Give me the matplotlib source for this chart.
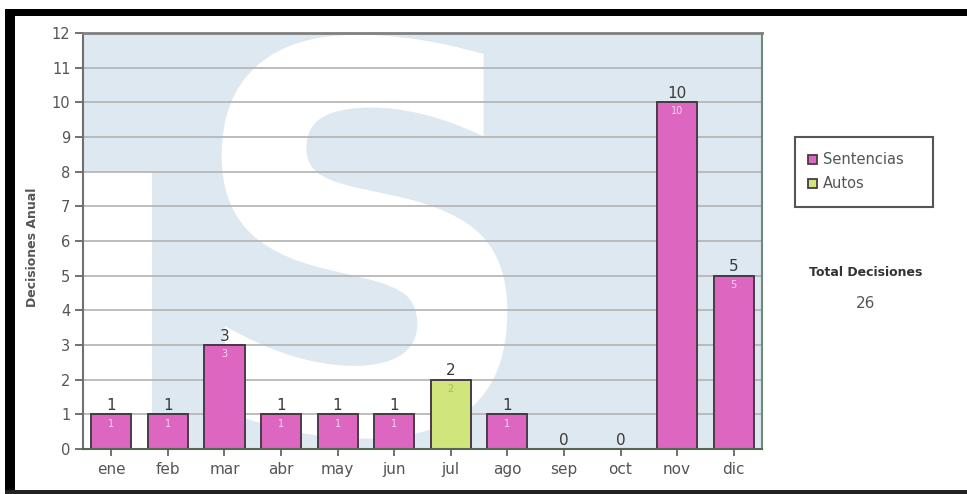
import matplotlib
matplotlib.use("Agg")
import matplotlib.pyplot as plt
from matplotlib.patches import Rectangle, PathPatch
from matplotlib.textpath import TextPath
from matplotlib.font_manager import FontProperties
from matplotlib.transforms import Affine2D

# ---- data ----
months = ['ene', 'feb', 'mar', 'abr', 'may', 'jun', 'jul', 'ago', 'sep', 'oct', 'nov', 'dic']
sentencias = [1, 1, 3, 1, 1, 1, 0, 1, 0, 0, 10, 5]
autos = [0, 0, 0, 0, 0, 0, 2, 0, 0, 0, 0, 0]
series_names = ['Sentencias', 'Autos']
total_label = 'Total Decisiones'
total_value = 26
y_ticks = list(range(0, 13))

# ---- style ----
c_sent = '#dd66c0'
c_auto = '#d0e67a'
c_edge = '#4a3a48'
c_bg = '#dde8f1'
c_text = '#555555'

W, H = 967, 494
fig = plt.figure(figsize=(W / 100, H / 100), dpi=100)
fig.patch.set_facecolor('white')

ax = fig.add_axes([83 / W, 1 - 449 / H, (762 - 83) / W, (449 - 33) / H])
ax.set_facecolor(c_bg)
ax.set_xlim(-0.5, len(months) - 0.5)
ax.set_ylim(0, 12)

# watermark: white lower-left block and a big white "S"
ax.add_patch(Rectangle((-0.5, 0), 1.22, 8, facecolor='white', edgecolor='none', zorder=0.2))
tp = TextPath((0, 0), 'S', size=1, prop=FontProperties(family='DejaVu Sans', weight='bold'))
ext = tp.get_extents()
x0, x1, y0, y1 = 1.95, 7.0, 0.3, 11.95
tr = (Affine2D().translate(-ext.x0, -ext.y0)
      .scale((x1 - x0) / ext.width, (y1 - y0) / ext.height)
      .translate(x0, y0)) + ax.transData
ax.add_patch(PathPatch(tp, transform=tr, facecolor='white', edgecolor='none', zorder=0.3))

# gridlines
for yv in y_ticks[1:]:
    ax.axhline(yv, color='#b2b2b2', lw=1.2, zorder=0.6)

x = list(range(len(months)))
totals = [s + a for s, a in zip(sentencias, autos)]
ax.bar(x, sentencias, width=0.71, color=c_sent, edgecolor=c_edge, linewidth=1.4, zorder=2,
       label=series_names[0])
ax.bar(x, autos, bottom=sentencias, width=0.71, color=c_auto, edgecolor=c_edge, linewidth=1.4,
       zorder=2, label=series_names[1])

for i, t in enumerate(totals):
    ax.annotate(str(t), (i, t), xytext=(0, 1), textcoords='offset points', ha='center',
                va='bottom', fontsize=11, color='#3a3a3a', zorder=3)
    if t > 0:
        col = '#f4d8ee' if sentencias[i] > 0 else '#a9ba66'
        ax.annotate(str(t), (i, t), xytext=(0, -3), textcoords='offset points', ha='center',
                    va='top', fontsize=7, color=col, zorder=3)

ax.set_yticks(y_ticks)
ax.set_yticklabels([str(v) for v in y_ticks], fontsize=10.5, color=c_text)
ax.set_xticks(x)
ax.set_xticklabels(months, fontsize=11, color=c_text)
ax.tick_params(axis='y', length=6, width=1.3, color='#666666', pad=3)
ax.tick_params(axis='x', length=5, width=1.3, color='#666666', pad=4)

ax.spines['left'].set_color('#707070')
ax.spines['left'].set_linewidth(1.5)
ax.spines['top'].set_color('#808080')
ax.spines['top'].set_linewidth(2)
ax.spines['right'].set_color('#6f8a78')
ax.spines['right'].set_linewidth(1.5)
ax.spines['bottom'].set_color('#556655')
ax.spines['bottom'].set_linewidth(1.5)

fig.text(33 / W, 1 - 247 / H, 'Decisiones Anual', rotation=90, ha='center', va='center',
         fontsize=9, fontweight='bold', color=c_text)

# legend box (manual)
fig.add_artist(Rectangle((795 / W, 1 - 207 / H), (933 - 795) / W, 70 / H, transform=fig.transFigure,
                         facecolor='white', edgecolor='#555555', linewidth=1.5))
for k, (name, col) in enumerate(zip(series_names, [c_sent, c_auto])):
    yc = 160 + 24 * k
    fig.add_artist(Rectangle((808 / W, 1 - (yc + 4.5) / H), 9 / W, 9 / H, transform=fig.transFigure,
                             facecolor=col, edgecolor='#4a3a48', linewidth=1.3))
    fig.text(823 / W, 1 - yc / H, name, ha='left', va='center', fontsize=10.5, color=c_text)

fig.text(866 / W, 1 - 272 / H, total_label, ha='center', va='center', fontsize=9,
         fontweight='bold', color='#333333')
fig.text(866 / W, 1 - 303 / H, str(total_value), ha='center', va='center', fontsize=11,
         color=c_text)

# black frame
fig.add_artist(Rectangle((5 / W, 0), 10 / W, 1 - 9 / H, transform=fig.transFigure,
                         facecolor='black', edgecolor='none'))
fig.add_artist(Rectangle((5 / W, 1 - 16 / H), 1, 7 / H, transform=fig.transFigure,
                         facecolor='black', edgecolor='none'))
fig.add_artist(Rectangle((5 / W, 0), 1, 4 / H, transform=fig.transFigure,
                         facecolor='#222222', edgecolor='none'))

fig.savefig('out.png', dpi=100)
